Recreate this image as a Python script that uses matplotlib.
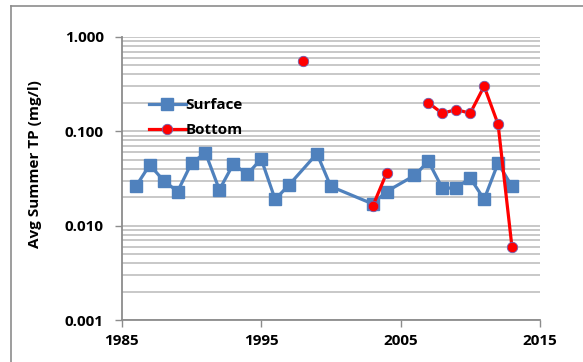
import numpy as np
import matplotlib.pyplot as plt
from matplotlib.lines import Line2D
from matplotlib.ticker import LogLocator, FixedLocator, FuncFormatter

# Average summer total phosphorus, surface and bottom samples
surface_years = [1986, 1987, 1988, 1989, 1990, 1991, 1992, 1993, 1994, 1995,
                 1996, 1997, 1999, 2000, 2003, 2004, 2006, 2007, 2008, 2009,
                 2010, 2011, 2012, 2013]
surface_tp = [0.026, 0.044, 0.030, 0.023, 0.046, 0.059, 0.024, 0.045, 0.035, 0.051,
              0.019, 0.027, 0.058, 0.026, 0.017, 0.023, 0.034, 0.048, 0.025, 0.025,
              0.032, 0.019, 0.046, 0.026]

bottom_years = [1998, 1999, 2003, 2004, 2005, 2006, 2007, 2008, 2009, 2010,
                2011, 2012, 2013]
bottom_tp = [0.56, np.nan, 0.016, 0.036, np.nan, np.nan, 0.20, 0.155, 0.17, 0.155,
             0.30, 0.119, 0.0059]

plt.rcParams['font.family'] = ['Open Sans', 'DejaVu Sans']
plt.rcParams['font.weight'] = 'bold'
plt.rcParams['axes.labelweight'] = 'bold'

fig = plt.figure(figsize=(5.83, 3.62), dpi=100)
ax = fig.add_axes([0.209, 0.116, 0.717, 0.782])

# chart frame
fig.add_artist(Line2D([11 / 583, 1], [1 - 6 / 362, 1 - 6 / 362], transform=fig.transFigure,
                      color='#8c8c8c', lw=1.2))
fig.add_artist(Line2D([11 / 583, 11 / 583], [0, 1 - 6 / 362], transform=fig.transFigure,
                      color='#8c8c8c', lw=1.2))

ax.plot(surface_years, surface_tp, color='#4f81bd', lw=2.3, marker='s', markersize=9,
        markerfacecolor='#4f81bd', markeredgecolor='#4f81bd', label='Surface', zorder=3)
ax.plot(bottom_years, bottom_tp, color='#ff0000', lw=2.3, marker='o', markersize=7.5,
        markerfacecolor='#ff0000', markeredgecolor='#7060b0', markeredgewidth=0.6,
        label='Bottom', zorder=4)

ax.set_yscale('log')
ax.set_ylim(0.001, 1.0)
ax.set_xlim(1985, 2015)
ax.xaxis.set_major_locator(FixedLocator([1985, 1995, 2005, 2015]))
ax.yaxis.set_major_locator(LogLocator(base=10, numticks=10))
ax.yaxis.set_minor_locator(LogLocator(base=10, subs=np.arange(2, 10), numticks=10))
ax.yaxis.set_major_formatter(FuncFormatter(lambda v, p: f'{v:.3f}'))
ax.yaxis.set_minor_formatter(FuncFormatter(lambda v, p: ''))

ax.grid(axis='y', which='both', color='#c4c4c4', lw=1.3)
ax.set_axisbelow(True)

for side in ['top', 'right']:
    ax.spines[side].set_visible(False)
for side in ['left', 'bottom']:
    ax.spines[side].set_color('#8c8c8c')
    ax.spines[side].set_linewidth(1.3)

ax.tick_params(axis='both', which='major', length=5, width=1, color='#8c8c8c',
               labelsize=11)
ax.tick_params(axis='y', which='minor', length=0)
ax.tick_params(axis='y', pad=8)
ax.tick_params(axis='x', pad=5)
for lbl in ax.get_xticklabels() + ax.get_yticklabels():
    lbl.set_fontweight('bold')

ax.set_ylabel('Avg Summer TP (mg/l)', fontsize=11, fontweight='bold')
ax.yaxis.set_label_coords(-0.19, 0.55)

leg = ax.legend(loc='upper left', bbox_to_anchor=(0.05, 0.805), frameon=False,
                prop={'size': 11, 'weight': 'bold'},
                handlelength=2.4, handletextpad=0.0, labelspacing=0.7, borderaxespad=0)

fig.savefig('out.png', dpi=100)
